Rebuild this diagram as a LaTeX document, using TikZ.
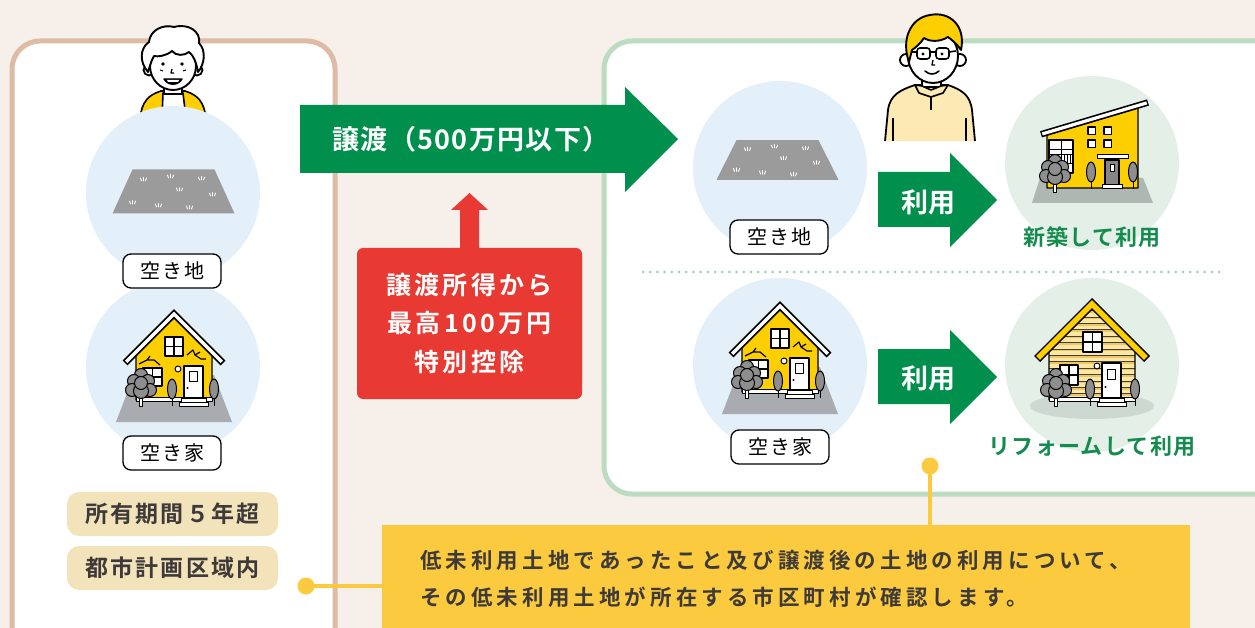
\documentclass[tikz,border=0pt]{standalone}
\usepackage{fontspec}
\setmainfont{Noto Sans CJK JP}[BoldFont={Noto Sans CJK JP Bold}]
\usetikzlibrary{calc}
\definecolor{bgcream}{HTML}{F7EFEA}
\definecolor{edgetan}{HTML}{DDBBA5}
\definecolor{edgegreen}{HTML}{BBDCC1}
\definecolor{skyblue}{HTML}{E3EFF9}
\definecolor{mintgreen}{HTML}{E4EFE7}
\definecolor{arrowgreen}{HTML}{008F4C}
\definecolor{labelgreen}{HTML}{138C4E}
\definecolor{alertred}{HTML}{E83A33}
\definecolor{noteyellow}{HTML}{FCCA3E}
\definecolor{tagbeige}{HTML}{F3E3BB}
\definecolor{inkgray}{HTML}{3E3A39}
\definecolor{landgray}{HTML}{9B9B9B}
\definecolor{groundgray}{HTML}{A8ACB0}
\definecolor{groundsage}{HTML}{AEB7B1}
\definecolor{groundpale}{HTML}{CDD8D0}
\definecolor{wallyellow}{HTML}{FDCF00}
\definecolor{woodpale}{HTML}{FDE7A3}
\definecolor{woodband}{HTML}{EDC763}
\definecolor{treegray}{HTML}{8E8E8E}
\definecolor{doorgray}{HTML}{858585}
\definecolor{shirtpale}{HTML}{FDE9B4}
\definecolor{dotgreen}{HTML}{A3D3A8}

\newcommand{\jpsize}[2]{\fontsize{#1}{#2}\selectfont}

\tikzset{
  outline/.style={draw=black, line width=1.2},
  labelbox/.style={draw=black, line width=1.3, fill=white, rounded corners=8pt,
    minimum width=98pt, minimum height=34pt, inner sep=0pt,
    font=\jpsize{20}{24}\addfontfeature{LetterSpace=10}},
  tagbox/.style={fill=tagbeige, rounded corners=12pt, minimum width=211pt,
    minimum height=44pt, inner sep=0pt, text=inkgray,
    font=\bfseries\jpsize{23}{26}\addfontfeature{LetterSpace=9}},
  greenlabel/.style={text=labelgreen, inner sep=0pt,
    font=\bfseries\jpsize{22}{24}\addfontfeature{LetterSpace=6}},
  arrowlabel/.style={text=white, inner sep=0pt, font=\bfseries\jpsize{27}{30}},
  notetext/.style={text=inkgray, anchor=west, inner sep=0pt,
    font=\bfseries\jpsize{21.5}{24}\addfontfeature{LetterSpace=19}},
  noteline/.style={draw=noteyellow, line width=4},
  notedot/.style={circle, fill=noteyellow, minimum size=17pt, inner sep=0pt},
  tuft/.pic={
    \draw[white, line width=0.9, line cap=round]
      (-3,-1.5) -- (-2,1.5) (0,-2) -- (0,1.5) (3,-1.5) -- (2,1.5);
  },
  land/.pic={
    \fill[landgray] (-41,-22) -- (41,-22) -- (61,22) -- (-61,22) -- cycle;
    \foreach \a/\b in {-30/-12,-3/-15,28/-13,6/-2,39/3,-41/11,-15/14,16/16}
      \pic at (\a,\b) {tuft};
  },
  bush/.pic={
    \draw[line width=0.9, fill=white] (-1.6,0) rectangle (1.6,12);
    \foreach \a/\b/\r in {0/-19/6.5,-7/-13/6.5,7/-13/6.5,-9/-4/6.5,9/-4/6.5,0/-3/7.5,0/-11/6.5}
      \draw[line width=1, fill=treegray] (\a,\b) circle (\r);
  },
  cypress/.pic={
    \draw[line width=1] (0,0) -- (0,12);
    \draw[line width=1, fill=treegray] (0,-5) ellipse (4.5 and 10);
  },
  oldhouse/.pic={
    \fill[groundgray] (-40,-25) -- (40,-25) -- (58,22) -- (-58,22) -- cycle;
    \draw[outline, fill=wallyellow] (-38,0) -- (-38,-48) -- (0,-86) -- (38,-48) -- (38,0) -- cycle;
    \draw[line width=7, line join=miter] (-49,-37) -- (0,-86) -- (49,-37);
    \draw[line width=3.2, white, line join=miter] (-47.8,-38.2) -- (0,-86) -- (47.8,-38.2);
    \draw[outline, fill=white] (-9,-63) rectangle (9,-44);
    \draw[outline] (0,-63) -- (0,-44) (-9,-53.5) -- (9,-53.5);
    \draw[outline, fill=white] (-31,-32) rectangle (-12,-14);
    \draw[outline] (-21.5,-32) -- (-21.5,-14) (-31,-23) -- (-12,-23);
    \draw[line width=1, fill=white] (4,-31) circle (3);
    \draw[outline, fill=white] (10,-34) rectangle (29,-2);
    \draw[line width=1, fill=white] (15,-29) rectangle (23,-19);
    \fill (13.5,-12) circle (1.1);
    \draw[line width=1, fill=white] (-38,-3) rectangle (38,1);
    \draw[line width=1, fill=white] (7,-2) rectangle (32,2);
    \draw[line width=1, fill=white] (5,2) rectangle (34,6);
    \draw[outline] (-35,-36) -- (-27,-40) -- (-20,-40) -- (-14,-35)
      (-27,-40) -- (-24,-44);
    \draw[outline] (13,-45) -- (19,-50) -- (21,-45) -- (27,-41) -- (32,-41)
      (21,-45) -- (26,-48);
    \pic at (-33,-6) {bush};
    \pic at (-2,-6) {cypress};
    \pic at (40,-6) {cypress};
  },
  woodhouse/.pic={
    \fill[groundpale] (0,6) ellipse (62 and 13);
    \begin{scope}
      \clip (-43,0) -- (-43,-53) -- (0,-96) -- (43,-53) -- (43,0) -- cycle;
      \fill[woodpale] (-45,-98) rectangle (45,0);
      \foreach \k in {1,...,15} {
        \draw[line width=2, woodband] (-45,-\k*6.4+1.4) -- (45,-\k*6.4+1.4);
        \draw[line width=0.6, black!75] (-45,-\k*6.4) -- (45,-\k*6.4);
      }
    \end{scope}
    \draw[outline] (-43,0) -- (-43,-53) -- (0,-96) -- (43,-53) -- (43,0) -- cycle;
    \draw[line width=8.5, line join=miter] (-55,-41) -- (0,-96) -- (55,-41);
    \draw[line width=5.5, wallyellow, line join=miter] (-53.9,-42.1) -- (0,-96) -- (53.9,-42.1);
    \draw[outline, fill=white] (-9,-68) rectangle (10,-48);
    \draw[outline] (0.5,-68) -- (0.5,-48) (-9,-58) -- (10,-58);
    \draw[outline, fill=white] (-32,-35) rectangle (-14,-15);
    \draw[outline] (-23,-35) -- (-23,-15) (-32,-25) -- (-14,-25);
    \draw[line width=1, fill=white] (5,-34) circle (3);
    \draw[outline, fill=white] (10,-37) rectangle (29,-2);
    \draw[line width=1, fill=white] (15,-31) rectangle (23,-21);
    \fill (13.5,-13) circle (1.1);
    \draw[line width=1, fill=white] (-43,-3) rectangle (43,1);
    \draw[line width=1, fill=white] (7,-2) rectangle (32,2);
    \draw[line width=1, fill=white] (5,2) rectangle (34,6);
    \pic at (-36,-6) {bush};
    \pic at (-2,-6) {cypress};
    \pic at (43,-6) {cypress};
  },
}

\begin{document}
\begin{tikzpicture}[x=1pt, y=-1pt, line join=round]
\useasboundingbox (0,0) rectangle (1255,628);
\fill[bgcream] (0,0) rectangle (1255,628);

% two panels
\draw[line width=5, draw=edgetan, fill=white, rounded corners=28pt] (12,41) rectangle (335,660);
\draw[line width=5, draw=edgegreen, fill=white, rounded corners=28pt] (604,41) rectangle (1300,494);

% ---------- owner (left) ----------
\draw[line width=1.6, fill=wallyellow]
  (140,118) .. controls (142,102) and (148,95) .. (161,91) -- (185,91)
  .. controls (198,95) and (204,102) .. (206,118) -- cycle;
\draw[line width=1.6, fill=white] (162,118) -- (163,93) -- (183,93) -- (186,118) -- cycle;
\draw[line width=1.8, fill=white] (164,80) -- (164,94) -- (182,94) -- (182,80);
\draw[line width=1.8, fill=white] (149,70) circle (5.5);
\draw[line width=1.8, fill=white] (197,70) circle (5.5);
\draw[line width=1.9, fill=white] (173,66) ellipse (23 and 24);
\draw[line width=1.9, fill=white]
  (148,72) .. controls (139,62) and (140,48) .. (149,42)
  .. controls (150,30) and (163,24) .. (174,27)
  .. controls (189,23) and (201,32) .. (199,43)
  .. controls (206,50) and (205,64) .. (198,72)
  .. controls (196,62) and (194,56) .. (189,52)
  .. controls (184,56) and (176,56) .. (172,51)
  .. controls (166,56) and (158,57) .. (154,56)
  .. controls (151,61) and (150,66) .. (148,72) -- cycle;
\fill (163,64) circle (1.8);
\fill (182,64) circle (1.8);
\draw[line width=1.3] (172,69) -- (171,73) -- (174,73);
\draw[line width=1.4, fill=black] (164,79) .. controls (168,86) and (178,86) .. (182,79) -- cycle;
\fill[white] (167,80) -- (179,80) -- (178,82) -- (168,82) -- cycle;
\draw[line width=1] (160,70) -- (163,71) (183,71) -- (186,70);

% ---------- buyer (right) ----------
\fill[shirtpale] (885,141) -- (888,110) .. controls (890,95) and (900,90) .. (915,85)
  -- (948,85) .. controls (962,90) and (970,95) .. (972,110) -- (975,141) -- cycle;
\draw[line width=1.8] (885,141) -- (888,110) .. controls (890,95) and (900,90) .. (915,85)
  -- (948,85) .. controls (962,90) and (970,95) .. (972,110) -- (975,141);
\draw[line width=1.8, fill=white] (922,76) -- (922,87) -- (941,87) -- (941,76);
\draw[line width=1.6, fill=shirtpale] (915,85) -- (919,93) -- (931,97) -- (943,93) -- (948,85)
  -- (941,86) -- (931,90) -- (922,86) -- cycle;
\draw[line width=1.6] (931,97) -- (931,110) (893,118) -- (893,141) (966,118) -- (966,141);
\draw[line width=1.8, fill=white] (906,60) circle (6);
\draw[line width=1.8, fill=white] (960,60) circle (6);
\draw[line width=1.9, fill=white] (933,56) ellipse (25 and 27);
\draw[line width=1.9, fill=wallyellow]
  (909,62) .. controls (901,40) and (910,18) .. (930,15)
  .. controls (950,11) and (966,26) .. (961,50)
  .. controls (957,44) and (952,40) .. (948,37)
  .. controls (940,42) and (930,42) .. (924,38)
  .. controls (920,44) and (915,48) .. (912,50)
  .. controls (911,54) and (910,58) .. (909,62) -- cycle;
\draw[line width=1.6, rounded corners=3pt, fill=white] (917,48) rectangle (930,59);
\draw[line width=1.6, rounded corners=3pt, fill=white] (936,48) rectangle (949,59);
\draw[line width=1.6] (930,52) -- (936,52) (912,52) -- (917,52) (949,52) -- (956,51);
\fill (923,54) circle (1.6);
\fill (942,54) circle (1.6);
\draw[line width=1.3] (933,60) -- (932,65) -- (935,65);
\draw[line width=1.6, line cap=round] (925,71) .. controls (929,75) and (935,75) .. (939,71);

% ---------- circles and scenes ----------
\fill[skyblue] (173,193) circle (87);
\fill[skyblue] (173,367) circle (87);
\fill[skyblue] (780,168) circle (87);
\fill[skyblue] (780,365) circle (87);
\fill[mintgreen] (1092,163) circle (87);
\fill[mintgreen] (1092,365) circle (87);

\pic at (173.5,191.5) {land};
\pic[yscale=0.9] at (777.5,160) {land};
\pic at (174,400) {oldhouse};
\pic at (780,392) {oldhouse};
\pic at (1092,400) {woodhouse};

% new build with a mono-pitch roof
\fill[groundsage] (1040,178) -- (1143,178) -- (1153,203) -- (1032,203) -- cycle;
\draw[outline, fill=wallyellow] (1047,188) -- (1047,135) -- (1138,108) -- (1138,188) -- cycle;
\draw[line width=6.5] (1041,134.3) -- (1148,102.5);
\draw[line width=3.2, white] (1042.3,133.9) -- (1146.7,102.9);
\foreach \a in {1088,1104} \foreach \b in {127,140}
  \draw[line width=1.1, fill=white] (\a,\b) rectangle ++(7.5,7.5);
\draw[outline, fill=white] (1049,140) rectangle (1073,173);
\draw[line width=1] (1061,140) -- (1061,155) (1049,150) -- (1073,150) (1049,155) -- (1073,155) (1049,164) -- (1073,164);
\foreach \a in {1052,1055,...,1071} \draw[line width=0.9] (\a,155) -- (\a,164);
\draw[line width=1, fill=white] (1097,155) rectangle (1128,159);
\draw[outline, fill=doorgray] (1105,160) rectangle (1119,186);
\draw[line width=0.9, fill=white] (1110,164) rectangle (1114,171);
\draw[line width=1, fill=white] (1102,185) rectangle (1122,189);
\pic at (1055,180) {bush};
\pic at (1091,177) {cypress};
\pic at (1133,177) {cypress};

% labels under the circles
\node[labelbox] (vacantLandL) at (172,271) {空き地};
\node[labelbox] (vacantHouseL) at (172,453) {空き家};
\node[labelbox] (vacantLandR) at (779,237) {空き地};
\node[labelbox] (vacantHouseR) at (780,447) {空き家};
\node[greenlabel] (newBuild) at (1092,237) {新築して利用};
\node[greenlabel] (reform) at (1092,446) {リフォームして利用};

% conditions
\node[tagbox] (tagPeriod) at (172.5,514) {所有期間５年超};
\node[tagbox] (tagCity) at (172.5,568) {都市計画区域内};

% transfer arrow
\fill[arrowgreen] (300,105) -- (625,105) -- (625,87) -- (678,139) -- (625,192) -- (625,173) -- (300,173) -- cycle;
\node[arrowlabel, font=\bfseries\jpsize{27}{30}\addfontfeature{LetterSpace=5}] (transfer) at (471,139) {譲渡（500万円以下）};

% deduction box with its arrow
\node[fill=alertred, rounded corners=6pt, minimum width=225pt, minimum height=151pt, inner sep=0pt] (deduct) at (469.5,323.5) {};
\fill[alertred] (460,249) -- (460,210) -- (451,210) -- (469.5,193) -- (488,210) -- (479,210) -- (479,249) -- cycle;
\node[text=white, align=center, inner sep=0pt,
  font=\bfseries\jpsize{25}{38.5}\addfontfeature{LetterSpace=13}] (deductText) at (deduct) {譲渡所得から\\最高100万円\\特別控除};

% use arrows
\fill[arrowgreen] (878,172) -- (950,172) -- (950,153) -- (997,200) -- (950,247) -- (950,227) -- (878,227) -- cycle;
\node[arrowlabel] (useTop) at (928,202) {利用};
\fill[arrowgreen] (878,349) -- (950,349) -- (950,330) -- (997,377) -- (950,424) -- (950,404) -- (878,404) -- cycle;
\node[arrowlabel] (useBottom) at (928,378) {利用};

% divider
\draw[dotgreen, line width=3, line cap=round, dash pattern=on 0pt off 7.2pt] (643,272) -- (1225,272);

% confirmation note
\node[fill=noteyellow, minimum width=808pt, minimum height=120pt, inner sep=0pt, anchor=north west] (note) at (382,525) {};
\node[notetext] (noteLine1) at (420,560) {低未利用土地であったこと及び譲渡後の土地の利用について、};
\node[notetext] (noteLine2) at (420,597) {その低未利用土地が所在する市区町村が確認します。};
\node[notedot] (dotL) at (306,586) {};
\node[notedot] (dotR) at (930,466) {};
\draw[noteline] (dotL.center) -- (dotL -| note.west);
\draw[noteline] (dotR.center) -- (dotR |- note.north);
\end{tikzpicture}
\end{document}
